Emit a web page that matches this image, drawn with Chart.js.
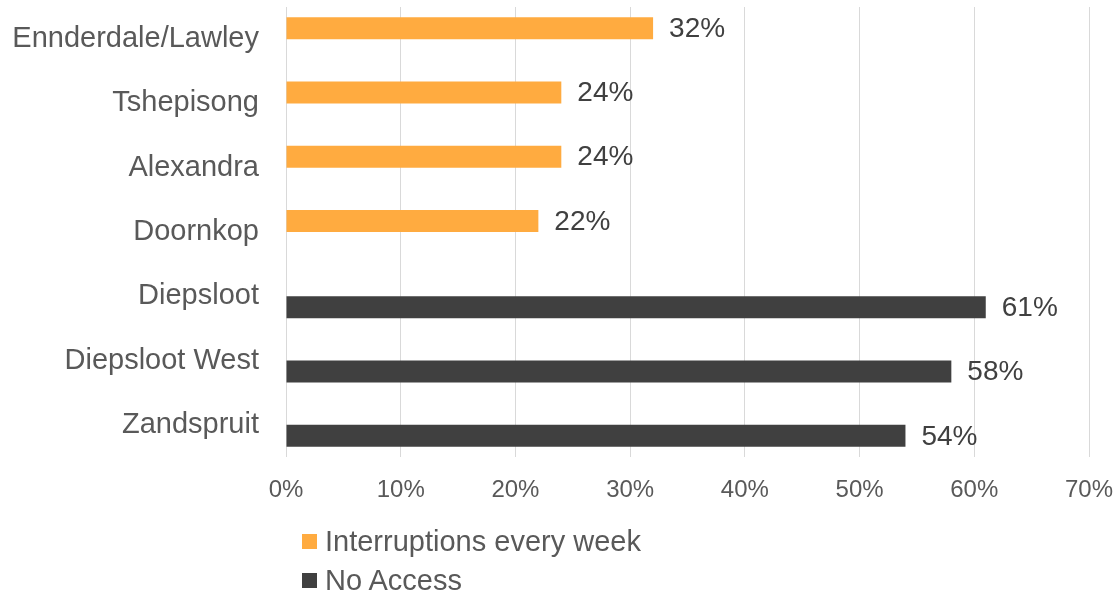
<!DOCTYPE html>
<html lang="en">
<head>
    <meta charset="UTF-8">
    <title>Water access by area</title>
    <script src="https://cdn.jsdelivr.net/npm/chart.js"></script>
    <style>
        body {
            margin: 0;
            background: #ffffff;
            font-family: 'Liberation Sans', Arial, sans-serif;
        }
        .wrap {
            position: relative;
            width: 1114px;
            height: 595px;
        }
        canvas {
            display: block;
        }
        #legend {
            position: absolute;
            left: 302px;
            top: 522px;
            color: #595959;
            font-size: 29px;
        }
        #legend .item {
            display: flex;
            align-items: center;
            height: 39px;
        }
        #legend .box {
            width: 15px;
            height: 15px;
            margin-right: 8px;
        }
    </style>
</head>
<body>
    <div class="wrap">
        <canvas id="chart" width="1114" height="595"></canvas>
        <div id="legend"></div>
    </div>

    <script>
        // Areas, top to bottom
        const areas = ['Ennderdale/Lawley', 'Tshepisong', 'Alexandra', 'Doornkop', 'Diepsloot', 'Diepsloot West', 'Zandspruit'];
        // Share of households (%)
        const interruptions = [32, 24, 24, 22, null, null, null];
        const noAccess = [null, null, null, null, 61, 58, 54];
        const xTicks = [0, 10, 20, 30, 40, 50, 60, 70];

        const FONT = "'Liberation Sans', Arial, sans-serif";

        // keep the plot area where the padding puts it: no extra room for tick labels
        function fixedSize(prop, size) {
            return scale => {
                scale[prop] = size;
                scale.paddingTop = scale.paddingBottom = scale.paddingLeft = scale.paddingRight = 0;
            };
        }

        // value labels to the right of each bar
        const barValueLabels = {
            id: 'barValueLabels',
            afterDatasetsDraw(chart) {
                const ctx = chart.ctx;
                ctx.save();
                ctx.font = '28px ' + FONT;
                ctx.fillStyle = '#404040';
                ctx.textAlign = 'left';
                ctx.textBaseline = 'middle';
                chart.data.datasets.forEach((ds, i) => {
                    chart.getDatasetMeta(i).data.forEach((bar, j) => {
                        const v = ds.data[j];
                        if (v == null) return;
                        ctx.fillText(v + '%', bar.x + 16, bar.y + 1);
                    });
                });
                ctx.restore();
            }
        };

        const chart = new Chart(document.getElementById('chart'), {
            type: 'bar',
            data: {
                labels: areas,
                datasets: [
                    { label: 'Interruptions every week', data: interruptions, backgroundColor: '#FFAB40' },
                    { label: 'No Access', data: noAccess, backgroundColor: '#404040' }
                ]
            },
            options: {
                indexAxis: 'y',
                responsive: false,
                animation: false,
                categoryPercentage: 0.684,
                barPercentage: 1,
                layout: {
                    padding: { top: 7, right: 25, bottom: 88, left: 0 }
                },
                plugins: {
                    legend: { display: false },
                    tooltip: { enabled: false }
                },
                scales: {
                    x: {
                        min: 0,
                        max: 70,
                        afterBuildTicks(scale) {
                            scale.ticks = xTicks.map(v => ({ value: v }));
                        },
                        afterFit: fixedSize('height', 50),
                        grid: { color: '#D9D9D9', lineWidth: 1, drawTicks: false },
                        border: { display: false },
                        ticks: {
                            padding: 19,
                            color: '#595959',
                            font: { family: FONT, size: 24 },
                            callback: v => v + '%'
                        }
                    },
                    y: {
                        afterFit: fixedSize('width', 286),
                        grid: { display: false, drawTicks: false },
                        border: { display: false },
                        ticks: {
                            padding: 27,
                            color: '#595959',
                            font: { family: FONT, size: 29 }
                        }
                    }
                }
            },
            plugins: [barValueLabels]
        });

        // legend stacked in two rows below the axis
        const legendEl = document.getElementById('legend');
        chart.data.datasets.forEach(ds => {
            const item = document.createElement('div');
            item.className = 'item';
            const box = document.createElement('span');
            box.className = 'box';
            box.style.background = ds.backgroundColor;
            const text = document.createElement('span');
            text.textContent = ds.label;
            item.appendChild(box);
            item.appendChild(text);
            legendEl.appendChild(item);
        });
    </script>
</body>
</html>
